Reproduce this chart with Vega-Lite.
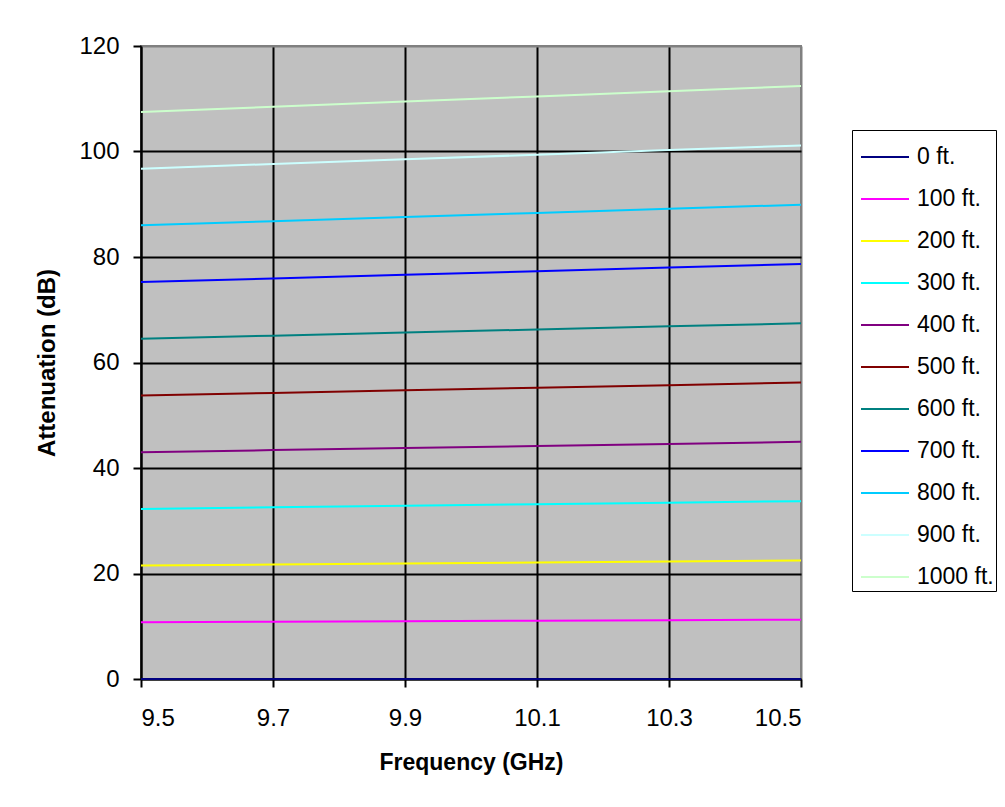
{
  "$schema": "https://vega.github.io/schema/vega-lite/v6.json",
  "width": 660,
  "height": 633,
  "autosize": {"type": "none"},
  "padding": {"left": 141, "top": 46, "right": 204, "bottom": 128},
  "background": "white",
  "config": {
    "font": "Liberation Sans",
    "view": {"fill": "#C0C0C0", "stroke": "#808080", "strokeWidth": 2}
  },
  "data": {
    "values": [
      {"distance": "0 ft.", "freq": 9.5, "atten": 0}, {"distance": "0 ft.", "freq": 9.7, "atten": 0}, {"distance": "0 ft.", "freq": 9.9, "atten": 0}, {"distance": "0 ft.", "freq": 10.1, "atten": 0}, {"distance": "0 ft.", "freq": 10.3, "atten": 0}, {"distance": "0 ft.", "freq": 10.5, "atten": 0},
      {"distance": "100 ft.", "freq": 9.5, "atten": 10.75}, {"distance": "100 ft.", "freq": 9.7, "atten": 10.85}, {"distance": "100 ft.", "freq": 9.9, "atten": 10.95}, {"distance": "100 ft.", "freq": 10.1, "atten": 11.04}, {"distance": "100 ft.", "freq": 10.3, "atten": 11.14}, {"distance": "100 ft.", "freq": 10.5, "atten": 11.24},
      {"distance": "200 ft.", "freq": 9.5, "atten": 21.5}, {"distance": "200 ft.", "freq": 9.7, "atten": 21.7}, {"distance": "200 ft.", "freq": 9.9, "atten": 21.89}, {"distance": "200 ft.", "freq": 10.1, "atten": 22.09}, {"distance": "200 ft.", "freq": 10.3, "atten": 22.28}, {"distance": "200 ft.", "freq": 10.5, "atten": 22.48},
      {"distance": "300 ft.", "freq": 9.5, "atten": 32.25}, {"distance": "300 ft.", "freq": 9.7, "atten": 32.54}, {"distance": "300 ft.", "freq": 9.9, "atten": 32.84}, {"distance": "300 ft.", "freq": 10.1, "atten": 33.13}, {"distance": "300 ft.", "freq": 10.3, "atten": 33.43}, {"distance": "300 ft.", "freq": 10.5, "atten": 33.72},
      {"distance": "400 ft.", "freq": 9.5, "atten": 43.0}, {"distance": "400 ft.", "freq": 9.7, "atten": 43.39}, {"distance": "400 ft.", "freq": 9.9, "atten": 43.78}, {"distance": "400 ft.", "freq": 10.1, "atten": 44.18}, {"distance": "400 ft.", "freq": 10.3, "atten": 44.57}, {"distance": "400 ft.", "freq": 10.5, "atten": 44.96},
      {"distance": "500 ft.", "freq": 9.5, "atten": 53.75}, {"distance": "500 ft.", "freq": 9.7, "atten": 54.24}, {"distance": "500 ft.", "freq": 9.9, "atten": 54.73}, {"distance": "500 ft.", "freq": 10.1, "atten": 55.22}, {"distance": "500 ft.", "freq": 10.3, "atten": 55.71}, {"distance": "500 ft.", "freq": 10.5, "atten": 56.2},
      {"distance": "600 ft.", "freq": 9.5, "atten": 64.5}, {"distance": "600 ft.", "freq": 9.7, "atten": 65.09}, {"distance": "600 ft.", "freq": 9.9, "atten": 65.68}, {"distance": "600 ft.", "freq": 10.1, "atten": 66.26}, {"distance": "600 ft.", "freq": 10.3, "atten": 66.85}, {"distance": "600 ft.", "freq": 10.5, "atten": 67.44},
      {"distance": "700 ft.", "freq": 9.5, "atten": 75.25}, {"distance": "700 ft.", "freq": 9.7, "atten": 75.94}, {"distance": "700 ft.", "freq": 9.9, "atten": 76.62}, {"distance": "700 ft.", "freq": 10.1, "atten": 77.31}, {"distance": "700 ft.", "freq": 10.3, "atten": 77.99}, {"distance": "700 ft.", "freq": 10.5, "atten": 78.68},
      {"distance": "800 ft.", "freq": 9.5, "atten": 86.0}, {"distance": "800 ft.", "freq": 9.7, "atten": 86.78}, {"distance": "800 ft.", "freq": 9.9, "atten": 87.57}, {"distance": "800 ft.", "freq": 10.1, "atten": 88.35}, {"distance": "800 ft.", "freq": 10.3, "atten": 89.14}, {"distance": "800 ft.", "freq": 10.5, "atten": 89.92},
      {"distance": "900 ft.", "freq": 9.5, "atten": 96.75}, {"distance": "900 ft.", "freq": 9.7, "atten": 97.63}, {"distance": "900 ft.", "freq": 9.9, "atten": 98.51}, {"distance": "900 ft.", "freq": 10.1, "atten": 99.4}, {"distance": "900 ft.", "freq": 10.3, "atten": 100.28}, {"distance": "900 ft.", "freq": 10.5, "atten": 101.16},
      {"distance": "1000 ft.", "freq": 9.5, "atten": 107.5}, {"distance": "1000 ft.", "freq": 9.7, "atten": 108.48}, {"distance": "1000 ft.", "freq": 9.9, "atten": 109.46}, {"distance": "1000 ft.", "freq": 10.1, "atten": 110.44}, {"distance": "1000 ft.", "freq": 10.3, "atten": 111.42}, {"distance": "1000 ft.", "freq": 10.5, "atten": 112.4}
    ]
  },
  "mark": {"type": "line", "strokeWidth": 2},
  "encoding": {
    "x": {
      "field": "freq",
      "type": "quantitative",
      "scale": {"domain": [9.5, 10.5], "nice": false, "zero": false},
      "axis": {
        "title": "Frequency (GHz)",
        "values": [9.5, 9.7, 9.9, 10.1, 10.3, 10.5],
        "format": ".1f",
        "labelFontSize": 24,
        "labelColor": "black",
        "labelPadding": 19,
        "tickSize": 8,
        "tickWidth": 2,
        "tickColor": "black",
        "domainColor": "black",
        "domainWidth": 2,
        "gridColor": {"condition": {"test": "datum.value >= 10.49", "value": "#808080"}, "value": "black"},
        "gridWidth": 2,
        "titleFontSize": 23,
        "titleFontWeight": "bold",
        "titleColor": "black",
        "titlePadding": 21
      }
    },
    "y": {
      "field": "atten",
      "type": "quantitative",
      "scale": {"domain": [0, 120], "nice": false},
      "axis": {
        "title": "Attenuation (dB)",
        "values": [0, 20, 40, 60, 80, 100, 120],
        "labelFontSize": 24,
        "labelColor": "black",
        "labelPadding": 14,
        "tickSize": 8,
        "tickWidth": 2,
        "tickColor": "black",
        "domainColor": "black",
        "domainWidth": 2,
        "gridColor": {"condition": {"test": "datum.value >= 119", "value": "#808080"}, "value": "black"},
        "gridWidth": 2,
        "titleFontSize": 24,
        "titleFontWeight": "bold",
        "titleColor": "black",
        "titlePadding": 19
      }
    },
    "color": {
      "field": "distance",
      "type": "nominal",
      "scale": {
        "domain": ["0 ft.", "100 ft.", "200 ft.", "300 ft.", "400 ft.", "500 ft.", "600 ft.", "700 ft.", "800 ft.", "900 ft.", "1000 ft."],
        "range": ["#000080", "#FF00FF", "#FFFF00", "#00FFFF", "#800080", "#800000", "#008080", "#0000FF", "#00CCFF", "#CCFFFF", "#CCFFCC"]
      },
      "legend": {
        "title": null,
        "orient": "none",
        "legendX": 711,
        "legendY": 84,
        "fillColor": "white",
        "strokeColor": "black",
        "padding": 2,
        "symbolOffset": 6,
        "symbolType": "stroke",
        "symbolSize": 2304,
        "symbolStrokeWidth": 2,
        "labelFontSize": 23,
        "labelColor": "black",
        "labelOffset": 7,
        "rowPadding": 5
      }
    }
  }
}
